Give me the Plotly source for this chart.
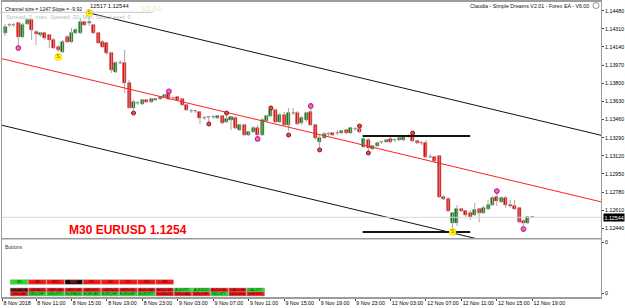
import plotly.graph_objects as go

W, H = 625, 308

# ---------------- data ----------------
bar_index = list(range(120))
opens = [1.14271, 1.14346, 1.14342, 1.14365, 1.14233, 1.14355, 1.14393, 1.14280, 1.14252, 1.14271,
         1.14252, 1.14205, 1.14140, 1.14093, 1.14233, 1.14186, 1.14271, 1.14271, 1.14374, 1.14365,
         1.14346, 1.14271, 1.14186, 1.14177, 1.14083, 1.13905, 1.13990, 1.13990, 1.13802, 1.13568,
         1.13615, 1.13605, 1.13643, 1.13624, 1.13652, 1.13652, 1.13671, 1.13709, 1.13662, 1.13671,
         1.13652, 1.13596, 1.13540, 1.13543, 1.13531, 1.13474, 1.13484, 1.13481, 1.13474, 1.13493,
         1.13437, 1.13456, 1.13474, 1.13362, 1.13409, 1.13315, 1.13343, 1.13381, 1.13315, 1.13446,
         1.13493, 1.13549, 1.13437, 1.13502, 1.13409, 1.13521, 1.13521, 1.13427, 1.13456, 1.13531,
         1.13409, 1.13249, 1.13287, 1.13324, 1.13334, 1.13334, 1.13334, 1.13362, 1.13334, 1.13371,
         1.13371, 1.13203, 1.13268, 1.13184, 1.13212, 1.13249, 1.13249, 1.13278, 1.13268, 1.13268,
         1.13268, 1.13306, 1.13315, 1.13259, 1.13240, 1.13240, 1.13109, 1.13109, 1.13118, 1.12734,
         1.12715, 1.12490, 1.12490, 1.12622, 1.12603, 1.12584, 1.12565, 1.12622, 1.12584, 1.12622,
         1.12659, 1.12734, 1.12687, 1.12725, 1.12659, 1.12650, 1.12631, 1.12509, 1.12490, 1.12547]
highs = [1.14355, 1.14365, 1.14365, 1.14374, 1.14365, 1.14411, 1.14402, 1.14299, 1.14280, 1.14280,
         1.14261, 1.14224, 1.14158, 1.14205, 1.14252, 1.14318, 1.14318, 1.14411, 1.14383, 1.14421,
         1.14355, 1.14280, 1.14205, 1.14186, 1.14093, 1.14008, 1.14018, 1.14111, 1.13830, 1.13643,
         1.13634, 1.13652, 1.13652, 1.13662, 1.13662, 1.13680, 1.13699, 1.13718, 1.13671, 1.13680,
         1.13662, 1.13605, 1.13559, 1.13549, 1.13540, 1.13493, 1.13493, 1.13502, 1.13502, 1.13502,
         1.13502, 1.13493, 1.13493, 1.13418, 1.13418, 1.13353, 1.13399, 1.13409, 1.13474, 1.13502,
         1.13559, 1.13559, 1.13521, 1.13531, 1.13568, 1.13568, 1.13540, 1.13493, 1.13531, 1.13568,
         1.13418, 1.13324, 1.13343, 1.13343, 1.13343, 1.13362, 1.13362, 1.13371, 1.13390, 1.13390,
         1.13381, 1.13296, 1.13287, 1.13221, 1.13249, 1.13259, 1.13278, 1.13296, 1.13287, 1.13296,
         1.13306, 1.13324, 1.13320, 1.13268, 1.13259, 1.13268, 1.13137, 1.13118, 1.13128, 1.12753,
         1.12734, 1.12594, 1.12659, 1.12631, 1.12612, 1.12612, 1.12678, 1.12631, 1.12650, 1.12706,
         1.12743, 1.12772, 1.12743, 1.12743, 1.12706, 1.12706, 1.12640, 1.12528, 1.12556, 1.12556]
lows = [1.14243, 1.14327, 1.14327, 1.14140, 1.14224, 1.14346, 1.14205, 1.14158, 1.14233, 1.14205,
        1.14130, 1.14121, 1.14093, 1.14083, 1.14177, 1.14177, 1.14261, 1.14261, 1.14336, 1.14336,
        1.14261, 1.14168, 1.14130, 1.14065, 1.13896, 1.13896, 1.13980, 1.13709, 1.13565, 1.13549,
        1.13596, 1.13596, 1.13615, 1.13615, 1.13634, 1.13643, 1.13662, 1.13643, 1.13652, 1.13634,
        1.13587, 1.13540, 1.13521, 1.13521, 1.13418, 1.13456, 1.13437, 1.13465, 1.13465, 1.13418,
        1.13427, 1.13362, 1.13371, 1.13353, 1.13306, 1.13306, 1.13334, 1.13296, 1.13306, 1.13437,
        1.13484, 1.13427, 1.13427, 1.13399, 1.13353, 1.13502, 1.13409, 1.13409, 1.13437, 1.13399,
        1.13268, 1.13193, 1.13278, 1.13306, 1.13306, 1.13315, 1.13324, 1.13324, 1.13324, 1.13353,
        1.13334, 1.13193, 1.13165, 1.13175, 1.13203, 1.13231, 1.13240, 1.13240, 1.13249, 1.13259,
        1.13259, 1.13287, 1.13249, 1.13231, 1.13221, 1.13100, 1.13100, 1.13053, 1.12725, 1.12706,
        1.12594, 1.12444, 1.12462, 1.12594, 1.12547, 1.12519, 1.12556, 1.12500, 1.12575, 1.12612,
        1.12650, 1.12650, 1.12678, 1.12631, 1.12631, 1.12612, 1.12490, 1.12453, 1.12481, 1.12537]
closes = [1.14327, 1.14342, 1.14346, 1.14233, 1.14346, 1.14393, 1.14299, 1.14261, 1.14271, 1.14224,
          1.14205, 1.14130, 1.14111, 1.14186, 1.14186, 1.14271, 1.14299, 1.14374, 1.14346, 1.14374,
          1.14271, 1.14177, 1.14140, 1.14083, 1.13924, 1.13990, 1.13993, 1.13802, 1.13568, 1.13624,
          1.13618, 1.13643, 1.13624, 1.13652, 1.13643, 1.13671, 1.13690, 1.13652, 1.13659, 1.13643,
          1.13596, 1.13549, 1.13543, 1.13540, 1.13474, 1.13477, 1.13481, 1.13484, 1.13493, 1.13427,
          1.13465, 1.13484, 1.13381, 1.13409, 1.13315, 1.13343, 1.13381, 1.13315, 1.13456, 1.13493,
          1.13549, 1.13437, 1.13502, 1.13409, 1.13521, 1.13524, 1.13418, 1.13474, 1.13521, 1.13409,
          1.13287, 1.13287, 1.13324, 1.13327, 1.13315, 1.13331, 1.13353, 1.13334, 1.13381, 1.13374,
          1.13343, 1.13278, 1.13193, 1.13212, 1.13240, 1.13246, 1.13268, 1.13249, 1.13271, 1.13287,
          1.13296, 1.13303, 1.13259, 1.13240, 1.13237, 1.13109, 1.13112, 1.13071, 1.12734, 1.12715,
          1.12603, 1.12584, 1.12622, 1.12603, 1.12565, 1.12547, 1.12612, 1.12584, 1.12631, 1.12659,
          1.12725, 1.12697, 1.12725, 1.12659, 1.12650, 1.12622, 1.12500, 1.12490, 1.12547, 1.12544]

time_tick_bars = [-0.6, 7, 15, 23, 31, 39, 47, 55, 63, 71, 79, 87, 95, 103, 111, 119]
time_tick_labels = ["8 Nov 2018", "8 Nov 11:00", "8 Nov 15:00", "8 Nov 19:00", "8 Nov 23:00",
                    "9 Nov 03:00", "9 Nov 07:00", "9 Nov 11:00", "9 Nov 15:00", "9 Nov 19:00",
                    "9 Nov 23:00", "12 Nov 03:00", "12 Nov 07:00", "12 Nov 11:00", "12 Nov 15:00",
                    "12 Nov 19:00"]
price_ticks = [1.14480, 1.14310, 1.14140, 1.13970, 1.13800, 1.13630, 1.13460,
               1.13290, 1.13120, 1.12950, 1.12780, 1.12610, 1.12440]

magenta_bars = [3, 37, 57, 69, 111, 117]
magenta_prices = [1.14130, 1.13725, 1.13278, 1.13587, 1.12790, 1.12434]
darkred_bars = [29, 46, 50, 60, 64, 71, 80, 82, 92]
darkred_prices = [1.13521, 1.13418, 1.13521, 1.13568, 1.13315, 1.13175, 1.13399, 1.13146, 1.13333]
s_bars = [12, 19, 101]
s_prices = [1.14046, 1.14458, 1.12406]

channel_start_bar = 19
channel_start_price = 1.14458
channel_slope = -0.0000992     # "Slope = -9.92" points per bar
channel_size = 0.01247         # "Channel size = 1247" points

range_high = 1.13306
range_low = 1.12406
range_bars = [80.7, 105.0]
bid = 1.12544

tf_labels = ["M1", "M5", "M15", "M30", "H1", "H4", "D1", "W1", "MN"]
tf_state = ["up", "dn", "dn", "cur", "dn", "dn", "dn", "dn", "dn"]
pairs_top = ["EURUSD", "GBPAUD", "GBPCAD", "GBPCHF", "GBPJPY", "GBPNZD", "GBPUSD",
             "AUDCAD", "AUDCHF", "AUDJPY", "AUDNZD", "AUDUSD", "CADCHF", "CADJPY"]
pairs_top_state = ["cur", "dn", "dn", "dn", "dn", "dn", "dn", "dn", "dn", "up", "up", "dn", "dn", "up"]
pairs_bot = ["USDCAD", "USDCHF", "USDJPY", "EURAUD", "EURCAD", "EURCHF", "EURGBP",
             "EURJPY", "EURNZD", "NZDCAD", "NZDCHF", "NZDJPY", "NZDUSD", "CHFJPY"]
pairs_bot_state = ["dn", "up", "up", "up", "up", "up", "up", "up", "dn", "dn", "dn", "up", "dn", "dn"]

# ---------------- figure ----------------
FONT = "Liberation Sans, Arial, sans-serif"
x_range = [-0.68, 134.5]
y_range = [1.12350, 1.14561]


def px(x):
    return x / W


def py(y):
    return 1 - y / H


fig = go.Figure()

# wicks
wx, wy = [], []
for i, h, l in zip(bar_index, highs, lows):
    wx += [i, i, None]
    wy += [l, h, None]
fig.add_trace(go.Scatter(x=wx, y=wy, mode="lines", line=dict(color="#a6a6a6", width=1),
                         hoverinfo="skip", xaxis="x", yaxis="y"))

# bodies
for up in (True, False):
    xs, base, hgt = [], [], []
    for i, o, c in zip(bar_index, opens, closes):
        if (c >= o) == up:
            xs.append(i)
            base.append(min(o, c))
            hgt.append(max(abs(c - o), 0.00003))
    fig.add_trace(go.Bar(x=xs, y=hgt, base=base, width=0.68,
                         marker=dict(color="#008a00" if up else "#ff0000",
                                     line=dict(color="#305030" if up else "#b00000", width=0.5)),
                         xaxis="x", yaxis="y", hoverinfo="skip"))


# channel
def chan(bar, offset):
    return channel_start_price + channel_slope * (bar - channel_start_bar) + offset


fig.add_trace(go.Scatter(x=[channel_start_bar, x_range[1]],
                         y=[chan(channel_start_bar, 0), chan(x_range[1], 0)],
                         mode="lines", line=dict(color="#111111", width=1), hoverinfo="skip"))
fig.add_trace(go.Scatter(x=[x_range[0], x_range[1]],
                         y=[chan(x_range[0], -channel_size / 2), chan(x_range[1], -channel_size / 2)],
                         mode="lines", line=dict(color="#ff2020", width=1), hoverinfo="skip"))
fig.add_trace(go.Scatter(x=[x_range[0], x_range[1]],
                         y=[chan(x_range[0], -channel_size), chan(x_range[1], -channel_size)],
                         mode="lines", line=dict(color="#111111", width=1), hoverinfo="skip"))

# bid line
fig.add_trace(go.Scatter(x=x_range, y=[bid, bid], mode="lines",
                         line=dict(color="#d8d8d8", width=1), hoverinfo="skip"))

# range lines
for lvl in (range_high, range_low):
    fig.add_trace(go.Scatter(x=range_bars, y=[lvl, lvl], mode="lines",
                             line=dict(color="#151515", width=2), hoverinfo="skip"))

# markers
fig.add_trace(go.Scatter(x=magenta_bars, y=magenta_prices, mode="markers",
                         marker=dict(size=4.5, color="#f070c8", line=dict(color="#c0208a", width=1.2)),
                         hoverinfo="skip"))
fig.add_trace(go.Scatter(x=darkred_bars, y=darkred_prices, mode="markers",
                         marker=dict(size=4, color="#e05050", line=dict(color="#901010", width=1)),
                         hoverinfo="skip"))
fig.add_trace(go.Scatter(x=s_bars, y=s_prices, mode="markers+text", text=["S"] * len(s_bars),
                         textposition="middle center",
                         textfont=dict(size=5, color="#e03000", family=FONT),
                         marker=dict(size=7, color="#ffff00", line=dict(color="#d8c000", width=0.5)),
                         hoverinfo="skip"))

# sub-window dummy trace so axes render
fig.add_trace(go.Scatter(x=[x_range[0]], y=[-1], mode="markers", marker=dict(opacity=0),
                         xaxis="x2", yaxis="y2", hoverinfo="skip"))

axis_col = "#9c9c9c"
main_dom_y = [py(238), py(2)]
sub_dom_y = [py(297), py(239.5)]
dom_x = [px(2), px(601)]

fig.update_layout(
    width=W, height=H, margin=dict(l=0, r=0, t=0, b=0, autoexpand=False),
    paper_bgcolor="white", plot_bgcolor="white", showlegend=False,
    barmode="overlay", bargap=0,
    font=dict(family=FONT, size=5.3, color="black"),
    xaxis=dict(domain=dom_x, range=x_range, anchor="y", showticklabels=False, ticks="",
               showgrid=False, zeroline=False, showline=True, mirror=True, automargin=False,
               linecolor=axis_col, linewidth=1.5, fixedrange=True),
    yaxis=dict(domain=main_dom_y, range=y_range, anchor="x", side="right", automargin=False,
               tickvals=price_ticks, ticktext=[f"{v:.5f}" for v in price_ticks],
               ticks="outside", ticklen=2, tickcolor="#444", tickfont=dict(size=5.3),
               showgrid=False, zeroline=False, showline=True, mirror=True,
               linecolor=axis_col, linewidth=1, fixedrange=True),
    xaxis2=dict(domain=dom_x, range=x_range, anchor="y2", matches="x", automargin=False,
                tickvals=time_tick_bars, ticktext=time_tick_labels, tickangle=0,
                ticklabelposition="outside right", ticks="outside", ticklen=2, tickcolor="#444",
                tickfont=dict(size=5.3), showgrid=False, zeroline=False, showline=True,
                mirror=True, linecolor=axis_col, linewidth=1.5, fixedrange=True),
    yaxis2=dict(domain=sub_dom_y, range=[0, 1], anchor="x2", side="right", automargin=False,
                tickvals=[0.06, 0.95], ticktext=["0", "0"], ticks="outside", ticklen=2,
                tickcolor="#444", tickfont=dict(size=5.3), showgrid=False, zeroline=False,
                showline=True, mirror=True, linecolor=axis_col, linewidth=1, fixedrange=True),
    xaxis3=dict(domain=dom_x, range=[-0.44, 32.47], anchor="y3", visible=False, fixedrange=True),
    yaxis3=dict(domain=sub_dom_y, range=[3.75, -10.625], anchor="x3", visible=False, fixedrange=True),
)

# buttons
state_fill = {"up": "#22e022", "dn": "#ff1010", "cur": "#120000"}
state_text = {"up": "#004400", "dn": "#500000", "cur": "#ff2a2a"}


def add_row(labels, states, row, half):
    for k, (lab, st) in enumerate(zip(labels, states)):
        fig.add_shape(type="rect", xref="x3", yref="y3", x0=k + 0.02, x1=k + 0.98,
                      y0=row - half, y1=row + half, fillcolor=state_fill[st],
                      line=dict(color="#8a8a8a", width=0.5), layer="above")
        fig.add_annotation(x=k + 0.5, y=row, xref="x3", yref="y3", text=lab, showarrow=False,
                           font=dict(size=3.6, color=state_text[st], family=FONT))


add_row(tf_labels, tf_state, 0, 0.55)
add_row(pairs_top, pairs_top_state, 2, 0.48)
add_row(pairs_bot, pairs_bot_state, 3, 0.48)

# texts
fig.add_annotation(x=px(139), y=py(1.5), xref="paper", yref="paper", xanchor="left", yanchor="top",
                   text="V2.01", showarrow=False, font=dict(size=8, color="#ece6b0", family=FONT))
fig.add_shape(type="line", xref="paper", yref="paper", x0=0, x1=px(153), y0=py(12.3), y1=py(12.3),
              line=dict(color="#c8c8c8", width=1))
fig.add_annotation(x=px(2.5), y=py(3.5), xref="paper", yref="paper", xanchor="left", yanchor="top",
                   text="Channel size = 1247 Slope = -9.92", showarrow=False,
                   font=dict(size=5, color="#111"))
fig.add_annotation(x=px(88), y=py(1), xref="paper", yref="paper", xanchor="left", yanchor="top",
                   text="12517 1.12544", showarrow=False, font=dict(size=5.8, color="#111"))
fig.add_annotation(x=px(4), y=py(11.5), xref="paper", yref="paper", xanchor="left", yanchor="top",
                   text="Spread: 2, max. Spread: 20, Min. Stop Level: 0", showarrow=False,
                   font=dict(size=6, color="#bcbcbc"))
fig.add_annotation(x=px(591), y=py(5.5), xref="paper", yref="paper", xanchor="right", yanchor="middle",
                   text="Claudia - Simple Dreams V2.01 - Forex EA - V6.00", showarrow=False,
                   font=dict(size=5.3, color="#111"))
fig.add_shape(type="circle", xref="paper", yref="paper", x0=px(593), x1=px(599), y0=py(8.5), y1=py(2.5),
              line=dict(color="#777", width=0.8))
fig.add_annotation(x=px(128), y=py(230), xref="paper", yref="paper", xanchor="center", yanchor="middle",
                   text="<b>M30 EURUSD 1.1254</b>", showarrow=False,
                   font=dict(size=12, color="#ff0000", family=FONT))
fig.add_annotation(x=px(3), y=py(241.5), xref="paper", yref="paper", xanchor="left", yanchor="top",
                   text="Buttons", showarrow=False, font=dict(size=5, color="#333"))
fig.add_annotation(x=px(602.5), y=bid, xref="paper", yref="y", xanchor="left", yanchor="middle",
                   text=f"{bid:.5f}", showarrow=False, bgcolor="#000000", borderpad=0.5,
                   font=dict(size=5.3, color="white"))

fig.write_html("out.html")
